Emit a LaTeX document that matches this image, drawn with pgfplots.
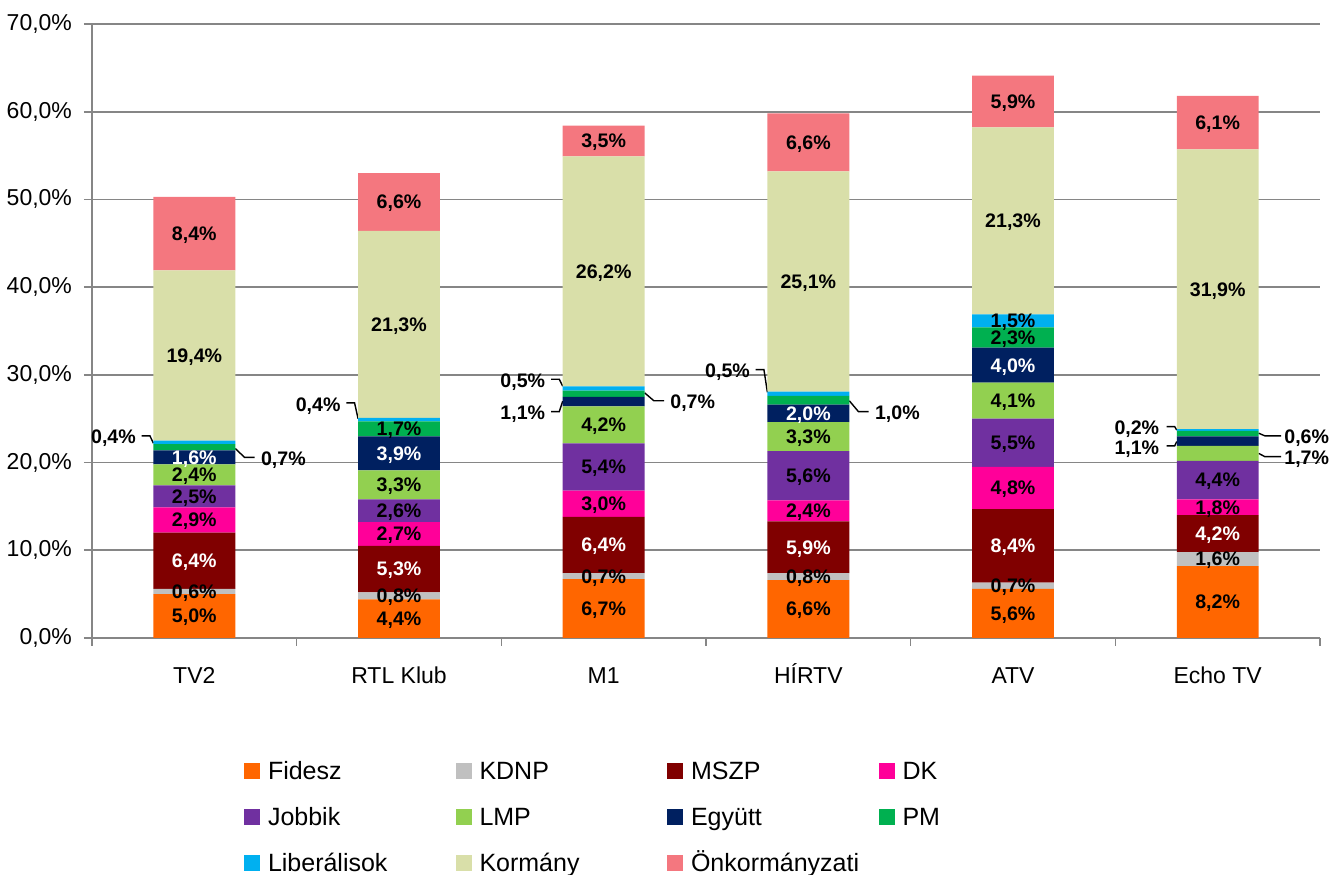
\documentclass[border=0pt]{standalone}
\usepackage{fontspec}
\setmainfont{Liberation Sans}
\usepackage{pgfplots}
\pgfplotsset{compat=1.18}
\definecolor{cFid}{HTML}{FF6600}
\definecolor{cKdnp}{HTML}{C0C0C0}
\definecolor{cMszp}{HTML}{800000}
\definecolor{cDk}{HTML}{FF0099}
\definecolor{cJob}{HTML}{7030A0}
\definecolor{cLmp}{HTML}{92D050}
\definecolor{cEgy}{HTML}{002060}
\definecolor{cPm}{HTML}{00B050}
\definecolor{cLib}{HTML}{00B0F0}
\definecolor{cKor}{HTML}{D9DFA9}
\definecolor{cOnk}{HTML}{F4777F}
\definecolor{axgray}{HTML}{868686}
\newcommand\labfont{\bfseries\fontsize{9.8}{11}\selectfont}
\pgfplotsset{
  sq/.style={draw=none, legend image code/.code={\fill[##1] (0pt,-4pt) rectangle (8pt,4pt);}},
}
\tikzset{
  lab/.style={font=\labfont, inner sep=0pt, text depth=0pt, anchor=center},
  leader/.style={black, line width=0.7pt},
}
\begin{document}
\begin{tikzpicture}
\begin{axis}[
  scale only axis, width=614pt, height=307pt,
  ybar stacked, bar width=0.4,
  xmin=-0.5, xmax=5.5, ymin=0, ymax=70,
  clip=false,
  axis lines*=left,
  axis line style={-, draw=axgray, line width=0.8pt},
  ymajorgrids=true,
  grid style={draw=axgray, line width=0.8pt},
  tick align=outside, major tick length=4pt,
  tick style={draw=axgray, line width=0.8pt},
  ytick={0,10,...,70},
  /pgf/number format/assume math mode=true,
  yticklabel={\pgfmathprintnumber[fixed,fixed zerofill,precision=1,use comma]{\tick}\%},
  tick label style={font=\fontsize{11.5}{13}\selectfont},
  yticklabel style={xshift=-2.5pt},
  xtick={-0.5,0.5,...,5.5}, xticklabels={},
  extra x ticks={0,1,2,3,4,5},
  extra x tick labels={TV2,RTL Klub,M1,HÍRTV,ATV,Echo TV},
  extra x tick style={tick style={draw=none}},
  xticklabel style={yshift=-6.5pt, text height=8.5pt, text depth=2pt},
  point meta=explicit symbolic,
  nodes near coords={\pgfplotspointmeta},
  every node near coord/.append style={font=\labfont, inner sep=0pt, text depth=0pt, anchor=center},
  legend columns=4,
  legend style={draw=none, fill=none, at={(0.1238,-0.1963)}, anchor=north west,
    inner sep=0pt, outer sep=0pt, column sep=0pt, row sep=10.5pt,
    nodes={inner sep=0pt, font=\fontsize{12.5}{14}\selectfont, text height=10.5pt, text depth=2pt},
    /tikz/every odd column/.append style={column sep=4pt}},
]
\addplot[sq, fill=cFid] coordinates {(0,5.0)[5,0\%] (1,4.4)[4,4\%] (2,6.7)[6,7\%] (3,6.6)[6,6\%] (4,5.6)[5,6\%] (5,8.2)[8,2\%]};
\addlegendentry{\makebox[93.75pt][l]{Fidesz}}
\addplot[sq, fill=cKdnp] coordinates {(0,0.6)[0,6\%] (1,0.8)[0,8\%] (2,0.7)[0,7\%] (3,0.8)[0,8\%] (4,0.7)[0,7\%] (5,1.6)[1,6\%]};
\addlegendentry{\makebox[93.75pt][l]{KDNP}}
\addplot[sq, fill=cMszp, every node near coord/.append style={text=white}] coordinates {(0,6.4)[6,4\%] (1,5.3)[5,3\%] (2,6.4)[6,4\%] (3,5.9)[5,9\%] (4,8.4)[8,4\%] (5,4.2)[4,2\%]};
\addlegendentry{\makebox[93.75pt][l]{MSZP}}
\addplot[sq, fill=cDk] coordinates {(0,2.9)[2,9\%] (1,2.7)[2,7\%] (2,3.0)[3,0\%] (3,2.4)[2,4\%] (4,4.8)[4,8\%] (5,1.8)[1,8\%]};
\addlegendentry{\makebox[40pt][l]{DK}}
\addplot[sq, fill=cJob] coordinates {(0,2.5)[2,5\%] (1,2.6)[2,6\%] (2,5.4)[5,4\%] (3,5.6)[5,6\%] (4,5.5)[5,5\%] (5,4.4)[4,4\%]};
\addlegendentry{\makebox[93.75pt][l]{Jobbik}}
\addplot[sq, fill=cLmp] coordinates {(0,2.4)[2,4\%] (1,3.3)[3,3\%] (2,4.2)[4,2\%] (3,3.3)[3,3\%] (4,4.1)[4,1\%] (5,1.7)[\relax]};
\addlegendentry{\makebox[93.75pt][l]{LMP}}
\addplot[sq, fill=cEgy, every node near coord/.append style={text=white}] coordinates {(0,1.6)[1,6\%] (1,3.9)[3,9\%] (2,1.1)[\relax] (3,2.0)[2,0\%] (4,4.0)[4,0\%] (5,1.1)[\relax]};
\addlegendentry{\makebox[93.75pt][l]{Együtt}}
\addplot[sq, fill=cPm] coordinates {(0,0.7)[\relax] (1,1.7)[1,7\%] (2,0.7)[\relax] (3,1.0)[\relax] (4,2.3)[2,3\%] (5,0.6)[\relax]};
\addlegendentry{\makebox[40pt][l]{PM}}
\addplot[sq, fill=cLib] coordinates {(0,0.4)[\relax] (1,0.4)[\relax] (2,0.5)[\relax] (3,0.5)[\relax] (4,1.5)[1,5\%] (5,0.2)[\relax]};
\addlegendentry{\makebox[93.75pt][l]{Liberálisok}}
\addplot[sq, fill=cKor] coordinates {(0,19.4)[19,4\%] (1,21.3)[21,3\%] (2,26.2)[26,2\%] (3,25.1)[25,1\%] (4,21.3)[21,3\%] (5,31.9)[31,9\%]};
\addlegendentry{\makebox[93.75pt][l]{Kormány}}
\addplot[sq, fill=cOnk] coordinates {(0,8.4)[8,4\%] (1,6.6)[6,6\%] (2,3.5)[3,5\%] (3,6.6)[6,6\%] (4,5.9)[5,9\%] (5,6.1)[6,1\%]};
\addlegendentry{\makebox[93.75pt][l]{Önkormányzati}}

% small segments labelled outside the bars
\node[lab] at (axis cs:-0.395,22.9) {0,4\%};
\draw[leader] (axis cs:-0.257,23.05) -- (axis cs:-0.217,23.05) -- (axis cs:-0.2,22.2);
\node[lab] at (axis cs:0.435,20.45) {0,7\%};
\draw[leader] (axis cs:0.2,21.6) -- (axis cs:0.245,20.6) -- (axis cs:0.295,20.6);
\node[lab] at (axis cs:0.605,26.65) {0,4\%};
\draw[leader] (axis cs:0.743,26.8) -- (axis cs:0.783,26.8) -- (axis cs:0.8,25.0);
\node[lab] at (axis cs:1.605,29.35) {0,5\%};
\draw[leader] (axis cs:1.743,29.5) -- (axis cs:1.783,29.5) -- (axis cs:1.8,28.7);
\node[lab] at (axis cs:1.605,25.65) {1,1\%};
\draw[leader] (axis cs:1.743,25.8) -- (axis cs:1.783,25.8) -- (axis cs:1.8,27.0);
\node[lab] at (axis cs:2.435,26.9) {0,7\%};
\draw[leader] (axis cs:2.2,27.95) -- (axis cs:2.245,27.05) -- (axis cs:2.295,27.05);
\node[lab] at (axis cs:2.605,30.5) {0,5\%};
\draw[leader] (axis cs:2.743,30.6) -- (axis cs:2.783,30.6) -- (axis cs:2.8,28.0);
\node[lab] at (axis cs:3.435,25.65) {1,0\%};
\draw[leader] (axis cs:3.2,27.05) -- (axis cs:3.245,25.8) -- (axis cs:3.295,25.8);
\node[lab] at (axis cs:4.605,23.95) {0,2\%};
\draw[leader] (axis cs:4.75,24.1) -- (axis cs:4.79,24.1) -- (axis cs:4.8,23.7);
\node[lab] at (axis cs:4.605,21.75) {1,1\%};
\draw[leader] (axis cs:4.75,21.9) -- (axis cs:4.79,21.9) -- (axis cs:4.8,22.4);
\node[lab] at (axis cs:5.435,22.9) {0,6\%};
\draw[leader] (axis cs:5.2,23.35) -- (axis cs:5.23,23.05) -- (axis cs:5.31,23.05);
\node[lab] at (axis cs:5.435,20.5) {1,7\%};
\draw[leader] (axis cs:5.2,21.05) -- (axis cs:5.23,20.68) -- (axis cs:5.31,20.68);

\coordinate (bl) at (rel axis cs:0,0);
\coordinate (tr) at (rel axis cs:1,1);
\end{axis}
\pgfresetboundingbox
\path[use as bounding box] ([shift={(-46pt,-118.5pt)}]bl) rectangle ([shift={(5.5pt,12pt)}]tr);
\end{tikzpicture}
\end{document}
